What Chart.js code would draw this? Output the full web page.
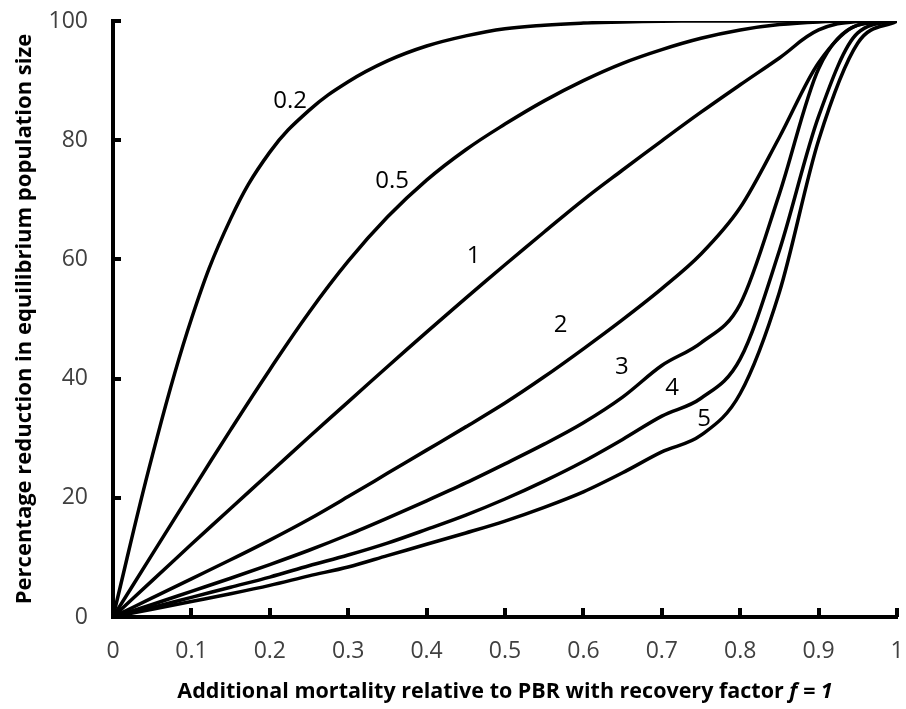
<!DOCTYPE html>
<html>
<head>
<meta charset="utf-8">
<script src="https://cdn.jsdelivr.net/npm/chart.js@4.4.1/dist/chart.umd.min.js"></script>
<style>
  html, body { margin: 0; padding: 0; background: #fff; }
  canvas { display: block; }
</style>
</head>
<body>
<canvas id="chart" width="906" height="709"></canvas>
<script>
// x positions shared by all curves (additional mortality relative to PBR)
const mortality = [0, 0.05, 0.1, 0.15, 0.2, 0.25, 0.3, 0.35, 0.4, 0.45, 0.5,
                   0.55, 0.6, 0.65, 0.7, 0.75, 0.8, 0.85, 0.9, 0.95, 1];

const curveNames = ['0.2', '0.5', '1', '2', '3', '4', '5'];

// percentage reduction in equilibrium population size, one array per curve
const reduction02 = [0, 27, 50, 66.8, 78, 85, 89.8, 93.3, 95.8, 97.5, 98.7, 99.3, 99.65, 99.85, 99.95, 100, 100, 100, 100, 100, 100];
const reduction05 = [0, 10.5, 21, 31.4, 41.5, 51.1, 59.7, 67.1, 73.3, 78.4, 82.7, 86.6, 90, 92.9, 95.2, 97.1, 98.5, 99.4, 99.85, 100, 100];
const reduction1  = [0, 6.1, 12.2, 18.2, 24.2, 30.2, 36.1, 42, 47.8, 53.5, 59.1, 64.6, 70, 75, 79.9, 84.7, 89.3, 93.8, 98.5, 99.9, 100];
const reduction2  = [0, 3.2, 6.4, 9.6, 12.9, 16.4, 20.2, 24.1, 28, 31.9, 35.9, 40.3, 45, 49.9, 55.1, 60.9, 68.7, 80.5, 93, 99.3, 100];
const reduction3  = [0, 2.1, 4.3, 6.5, 8.8, 11.2, 13.8, 16.6, 19.5, 22.5, 25.7, 29, 32.6, 36.9, 42.2, 46, 52.5, 71, 92, 99.3, 100];
const reduction4  = [0, 1.6, 3.3, 5, 6.7, 8.6, 10.4, 12.4, 14.7, 17.1, 19.8, 22.8, 26.1, 29.8, 33.7, 36.7, 43.3, 61.5, 84, 98, 100];
const reduction5  = [0, 1.3, 2.6, 3.9, 5.3, 6.9, 8.4, 10.3, 12.2, 14.1, 16.1, 18.4, 21, 24.2, 27.7, 30.5, 37.5, 54.5, 80, 96.3, 100];

const allReductions = [reduction02, reduction05, reduction1, reduction2, reduction3, reduction4, reduction5];

// the upper curves bend gently, the lower ones rise steeply near the end
const curveSmoothing = ['spline', 'spline', 'spline', 'monotone', 'monotone', 'monotone', 'monotone'];

// where each curve's name sits, in data units
const labelX = [0.226, 0.356, 0.46, 0.571, 0.649, 0.713, 0.754];
const labelY = [86.6, 73.2, 60.6, 48.9, 42, 38.4, 33.2];

const xTitle = 'Additional mortality relative to PBR with recovery factor ';
const xTitleItalic = 'f = 1';
const yTitle = 'Percentage reduction in equilibrium population size';

const fontFamily = '"Open Sans", sans-serif';

// inward tick marks, curve names and axis titles
const decorations = {
    id: 'decorations',
    afterDraw(chart) {
        const ctx = chart.ctx;
        const area = chart.chartArea;
        const xScale = chart.scales.x;
        const yScale = chart.scales.y;

        ctx.save();
        ctx.strokeStyle = '#000';
        ctx.lineWidth = 4;
        ctx.beginPath();
        xScale.ticks.forEach(t => {
            const px = Math.round(xScale.getPixelForValue(t.value));
            ctx.moveTo(px, area.bottom);
            ctx.lineTo(px, area.bottom - 9);
        });
        yScale.ticks.forEach(t => {
            const py = Math.round(yScale.getPixelForValue(t.value));
            ctx.moveTo(area.left, py);
            ctx.lineTo(area.left + 8, py);
        });
        ctx.stroke();

        // curve names
        ctx.fillStyle = '#000';
        ctx.font = '24px ' + fontFamily;
        ctx.textAlign = 'center';
        ctx.textBaseline = 'middle';
        curveNames.forEach((name, i) => {
            ctx.fillText(name, xScale.getPixelForValue(labelX[i]), yScale.getPixelForValue(labelY[i]));
        });

        // x axis title, last part in italics
        const boldFont = 'bold 21.5px ' + fontFamily;
        const italicFont = 'italic bold 21.5px ' + fontFamily;
        ctx.font = boldFont;
        const w1 = ctx.measureText(xTitle).width;
        ctx.font = italicFont;
        const w2 = ctx.measureText(xTitleItalic).width;
        const cx = (area.left + area.right) / 2;
        const startX = cx - (w1 + w2) / 2;
        ctx.textAlign = 'left';
        ctx.font = boldFont;
        ctx.fillText(xTitle, startX, 692);
        ctx.font = italicFont;
        ctx.fillText(xTitleItalic, startX + w1, 692);

        // y axis title
        ctx.translate(25, (area.top + area.bottom) / 2);
        ctx.rotate(-Math.PI / 2);
        ctx.textAlign = 'center';
        ctx.font = 'bold 22px ' + fontFamily;
        ctx.fillText(yTitle, 0, 0);
        ctx.restore();
    }
};

const ctx = document.getElementById('chart').getContext('2d');

const chart = new Chart(ctx, {
    type: 'line',
    data: {
        datasets: curveNames.map((name, i) => ({
            label: name,
            data: mortality.map((x, j) => ({ x: x, y: allReductions[i][j] })),
            borderColor: '#000',
            borderWidth: 3.5,
            pointRadius: 0,
            fill: false,
            tension: 0.4,
            cubicInterpolationMode: curveSmoothing[i] === 'monotone' ? 'monotone' : 'default'
        }))
    },
    options: {
        responsive: false,
        animation: false,
        layout: { padding: { top: 21, right: 9, left: 0, bottom: 0 } },
        plugins: {
            legend: { display: false },
            tooltip: { enabled: false }
        },
        scales: {
            x: {
                type: 'linear',
                min: 0,
                max: 1,
                grid: { display: false },
                border: { display: true, color: '#000', width: 4 },
                ticks: {
                    stepSize: 0.1,
                    autoSkip: false,
                    maxRotation: 0,
                    padding: 13,
                    color: '#404040',
                    font: { family: fontFamily, size: 23 },
                    callback: v => String(Number(v.toFixed(1)))
                },
                afterFit: scale => {
                    scale.height = 92;
                    scale.paddingLeft = 0;
                    scale.paddingRight = 0;
                }
            },
            y: {
                min: 0,
                max: 100,
                grid: { display: false },
                border: { display: true, color: '#000', width: 4 },
                ticks: {
                    stepSize: 20,
                    padding: 17,
                    color: '#404040',
                    font: { family: fontFamily, size: 23 }
                },
                afterFit: scale => {
                    scale.width = 113;
                    scale.paddingTop = 0;
                    scale.paddingBottom = 0;
                }
            }
        }
    },
    plugins: [decorations]
});
</script>
</body>
</html>
